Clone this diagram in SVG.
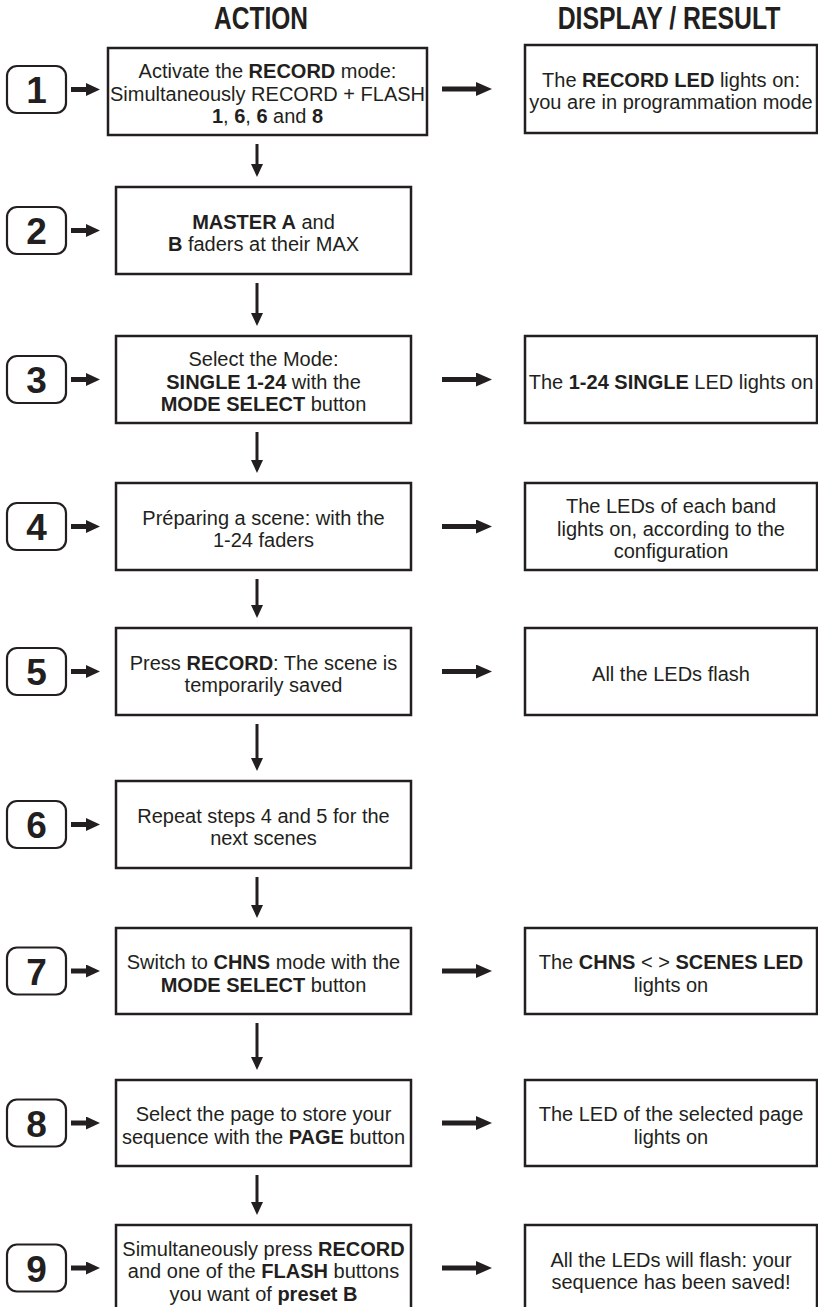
<svg xmlns="http://www.w3.org/2000/svg" width="818" height="1307" viewBox="0 0 818 1307">
<style>
.box{fill:#fff;stroke:#231f20;stroke-width:2.5}
.badge{fill:#fff;stroke:#231f20;stroke-width:2.2}
.t{font-family:"Liberation Sans",Arial,sans-serif;font-size:20px;fill:#231f20;text-anchor:middle}
.b{font-weight:bold}
.num{font-family:"Liberation Sans",Arial,sans-serif;font-weight:bold;font-size:37px;fill:#231f20;text-anchor:middle}
.h{font-family:"Liberation Sans",Arial,sans-serif;font-weight:bold;font-size:31px;fill:#231f20;text-anchor:middle}
.v{stroke:#231f20;stroke-width:3;fill:none;marker-end:url(#hv)}
.s{stroke:#231f20;stroke-width:5;fill:none;marker-end:url(#hs)}
.g{stroke:#231f20;stroke-width:5;fill:none;marker-end:url(#hg)}
</style>
<defs>
<marker id="hv" markerUnits="userSpaceOnUse" viewBox="0 0 13 12" markerWidth="13" markerHeight="12" refX="0" refY="6" orient="auto"><path d="M0,0 L13,6 L0,12 z" fill="#231f20"/></marker>
<marker id="hs" markerUnits="userSpaceOnUse" viewBox="0 0 14 13" markerWidth="14" markerHeight="13" refX="0" refY="6.5" orient="auto"><path d="M0,0 L14,6.5 L0,13 z" fill="#231f20"/></marker>
<marker id="hg" markerUnits="userSpaceOnUse" viewBox="0 0 16 14" markerWidth="16" markerHeight="14" refX="0" refY="7" orient="auto"><path d="M0,0 L16,7 L0,14 z" fill="#231f20"/></marker>
</defs>
<rect width="818" height="1307" fill="#fff"/>
<g id="headers">
<text class="h" transform="translate(261 29) scale(0.79 1)" x="0" y="0">ACTION</text>
<text class="h" transform="translate(669 29) scale(0.8 1)" x="0" y="0">DISPLAY / RESULT</text>
</g>
<g id="connectors">
<line class="s" x1="71" y1="89.5" x2="86" y2="89.5"/>
<line class="s" x1="71" y1="230.5" x2="86" y2="230.5"/>
<line class="s" x1="71" y1="379.5" x2="86" y2="379.5"/>
<line class="s" x1="71" y1="526.5" x2="86" y2="526.5"/>
<line class="s" x1="71" y1="671.5" x2="86" y2="671.5"/>
<line class="s" x1="71" y1="824.5" x2="86" y2="824.5"/>
<line class="s" x1="71" y1="971" x2="86" y2="971"/>
<line class="s" x1="71" y1="1123" x2="86" y2="1123"/>
<line class="s" x1="71" y1="1268" x2="86" y2="1268"/>
<line class="g" x1="442" y1="89" x2="476" y2="89"/>
<line class="g" x1="442" y1="379.5" x2="476" y2="379.5"/>
<line class="g" x1="442" y1="526.5" x2="476" y2="526.5"/>
<line class="g" x1="442" y1="671.5" x2="476" y2="671.5"/>
<line class="g" x1="442" y1="971" x2="476" y2="971"/>
<line class="g" x1="442" y1="1123" x2="476" y2="1123"/>
<line class="g" x1="442" y1="1268" x2="476" y2="1268"/>
<line class="v" x1="257" y1="144" x2="257" y2="164"/>
<line class="v" x1="257" y1="283" x2="257" y2="313"/>
<line class="v" x1="257" y1="432" x2="257" y2="460"/>
<line class="v" x1="257" y1="579" x2="257" y2="605"/>
<line class="v" x1="257" y1="724" x2="257" y2="758"/>
<line class="v" x1="257" y1="877" x2="257" y2="905"/>
<line class="v" x1="257" y1="1023" x2="257" y2="1057"/>
<line class="v" x1="257" y1="1175" x2="257" y2="1202"/>
</g>
<g id="badge1"><rect class="badge" x="7" y="66" width="59" height="47" rx="10"/><text class="num" x="36.5" y="103">1</text></g>
<g id="badge2"><rect class="badge" x="7" y="207" width="59" height="47" rx="10"/><text class="num" x="36.5" y="244">2</text></g>
<g id="badge3"><rect class="badge" x="7" y="356" width="59" height="47" rx="10"/><text class="num" x="36.5" y="393">3</text></g>
<g id="badge4"><rect class="badge" x="7" y="503" width="59" height="47" rx="10"/><text class="num" x="36.5" y="540">4</text></g>
<g id="badge5"><rect class="badge" x="7" y="648" width="59" height="47" rx="10"/><text class="num" x="36.5" y="685">5</text></g>
<g id="badge6"><rect class="badge" x="7" y="801" width="59" height="47" rx="10"/><text class="num" x="36.5" y="838">6</text></g>
<g id="badge7"><rect class="badge" x="7" y="947.5" width="59" height="47" rx="10"/><text class="num" x="36.5" y="984.5">7</text></g>
<g id="badge8"><rect class="badge" x="7" y="1099.5" width="59" height="47" rx="10"/><text class="num" x="36.5" y="1136.5">8</text></g>
<g id="badge9"><rect class="badge" x="7" y="1244.5" width="59" height="47" rx="10"/><text class="num" x="36.5" y="1281.5">9</text></g>
<g id="action1"><rect class="box" x="108" y="48" width="319" height="87"/>
<text class="t" x="267.5" y="78">Activate the <tspan class="b">RECORD</tspan> mode:</text>
<text class="t" x="267.5" y="100.5">Simultaneously RECORD + FLASH</text>
<text class="t" x="267.5" y="123"><tspan class="b">1</tspan>, <tspan class="b">6</tspan>, <tspan class="b">6</tspan> and <tspan class="b">8</tspan></text></g>
<g id="result1"><rect class="box" x="525" y="45" width="292" height="88"/>
<text class="t" x="671" y="86.5">The <tspan class="b">RECORD LED</tspan> lights on:</text>
<text class="t" x="671" y="109">you are in programmation mode</text></g>
<g id="action2"><rect class="box" x="116" y="187" width="295" height="87"/>
<text class="t" x="263.5" y="228.5"><tspan class="b">MASTER A</tspan> and</text>
<text class="t" x="263.5" y="251"><tspan class="b">B</tspan> faders at their MAX</text></g>
<g id="action3"><rect class="box" x="116" y="336" width="295" height="87"/>
<text class="t" x="263.5" y="366">Select the Mode:</text>
<text class="t" x="263.5" y="388.5"><tspan class="b">SINGLE 1-24</tspan> with the</text>
<text class="t" x="263.5" y="411"><tspan class="b">MODE SELECT</tspan> button</text></g>
<g id="result3"><rect class="box" x="525" y="336" width="292" height="87"/>
<text class="t" x="671" y="388.5">The <tspan class="b">1-24 SINGLE</tspan> LED lights on</text></g>
<g id="action4"><rect class="box" x="116" y="483" width="295" height="87"/>
<text class="t" x="263.5" y="524.5">Préparing a scene: with the</text>
<text class="t" x="263.5" y="547">1-24 faders</text></g>
<g id="result4"><rect class="box" x="525" y="483" width="292" height="87"/>
<text class="t" x="671" y="513">The LEDs of each band</text>
<text class="t" x="671" y="535.5">lights on, according to the</text>
<text class="t" x="671" y="558">configuration</text></g>
<g id="action5"><rect class="box" x="116" y="628" width="295" height="87"/>
<text class="t" x="263.5" y="669.5">Press <tspan class="b">RECORD</tspan>: The scene is</text>
<text class="t" x="263.5" y="692">temporarily saved</text></g>
<g id="result5"><rect class="box" x="525" y="628" width="292" height="87"/>
<text class="t" x="671" y="680.5">All the LEDs flash</text></g>
<g id="action6"><rect class="box" x="116" y="781" width="295" height="87"/>
<text class="t" x="263.5" y="822.5">Repeat steps 4 and 5 for the</text>
<text class="t" x="263.5" y="845">next scenes</text></g>
<g id="action7"><rect class="box" x="116" y="928" width="295" height="86"/>
<text class="t" x="263.5" y="969">Switch to <tspan class="b">CHNS</tspan> mode with the</text>
<text class="t" x="263.5" y="991.5"><tspan class="b">MODE SELECT</tspan> button</text></g>
<g id="result7"><rect class="box" x="525" y="928" width="292" height="86"/>
<text class="t" x="671" y="969">The <tspan class="b">CHNS</tspan> &lt; &gt; <tspan class="b">SCENES LED</tspan></text>
<text class="t" x="671" y="991.5">lights on</text></g>
<g id="action8"><rect class="box" x="116" y="1080" width="295" height="86"/>
<text class="t" x="263.5" y="1121">Select the page to store your</text>
<text class="t" x="263.5" y="1143.5">sequence with the <tspan class="b">PAGE</tspan> button</text></g>
<g id="result8"><rect class="box" x="525" y="1080" width="292" height="86"/>
<text class="t" x="671" y="1121">The LED of the selected page</text>
<text class="t" x="671" y="1143.5">lights on</text></g>
<g id="action9"><rect class="box" x="116" y="1225" width="295" height="88"/>
<text class="t" x="263.5" y="1255.5">Simultaneously press <tspan class="b">RECORD</tspan></text>
<text class="t" x="263.5" y="1278">and one of the <tspan class="b">FLASH</tspan> buttons</text>
<text class="t" x="263.5" y="1300.5">you want of <tspan class="b">preset B</tspan></text></g>
<g id="result9"><rect class="box" x="525" y="1225" width="292" height="88"/>
<text class="t" x="671" y="1266.5">All the LEDs will flash: your</text>
<text class="t" x="671" y="1289">sequence has been saved!</text></g>
</svg>
